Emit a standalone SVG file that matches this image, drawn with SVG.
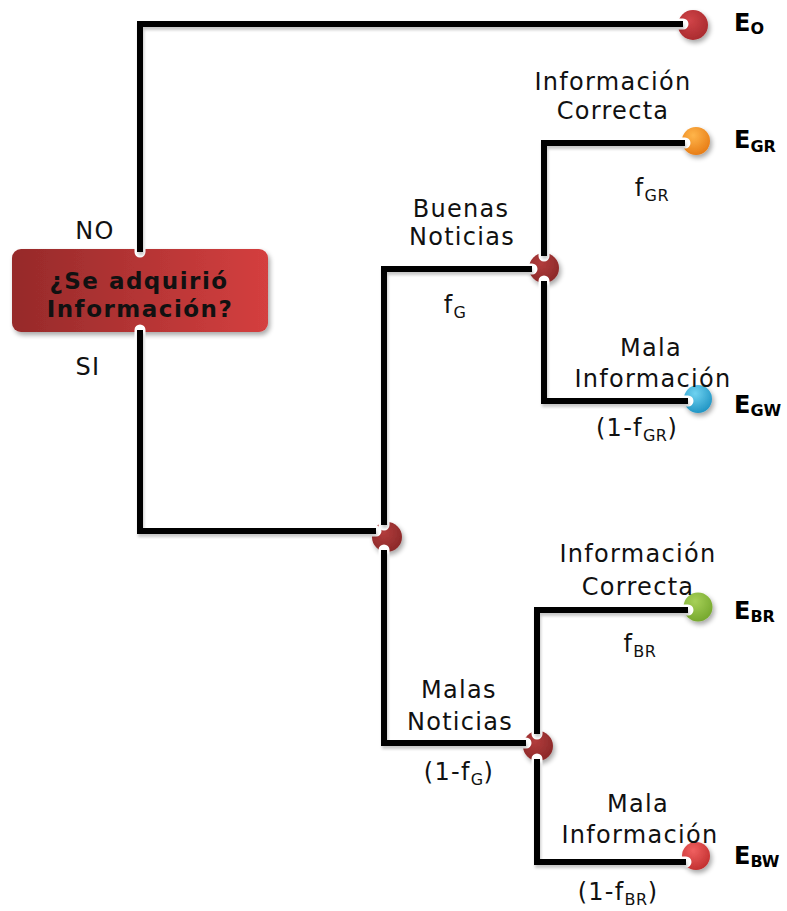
<svg xmlns="http://www.w3.org/2000/svg" width="787" height="911" viewBox="0 0 787 911">
  <defs>
    <style>
      .lbl { font-family: "DejaVu Sans", Verdana, sans-serif; font-size: 24px; letter-spacing: 1.3px; fill: #111; text-anchor: middle; }
      .sub { font-size: 16px; letter-spacing: 0.5px; }
      .end { font-family: "DejaVu Sans", Verdana, sans-serif; font-size: 24px; font-weight: bold; fill: #000; }
      .endsub { font-size: 16px; }
      .q { font-family: "DejaVu Sans", Verdana, sans-serif; font-size: 23px; font-weight: bold; letter-spacing: 1.5px; fill: #111; text-anchor: middle; }
      .halo { fill: none; stroke: #fff; stroke-width: 11; stroke-linecap: round; stroke-linejoin: miter; }
      .wire { fill: none; stroke: #000; stroke-width: 6; stroke-linecap: butt; stroke-linejoin: miter; }
    </style>
    <linearGradient id="boxFill" x1="0" y1="0" x2="1" y2="0">
      <stop offset="0" stop-color="#962a2a"/>
      <stop offset="1" stop-color="#d43f3f"/>
    </linearGradient>
    <radialGradient id="gNode" cx="0.4" cy="0.35" r="0.7">
      <stop offset="0" stop-color="#b23c3c"/>
      <stop offset="1" stop-color="#8a2828"/>
    </radialGradient>
    <radialGradient id="gRed" cx="0.4" cy="0.35" r="0.7">
      <stop offset="0" stop-color="#d04448"/>
      <stop offset="1" stop-color="#a82a2e"/>
    </radialGradient>
    <radialGradient id="gOrange" cx="0.4" cy="0.3" r="0.75">
      <stop offset="0" stop-color="#ffb54a"/>
      <stop offset="1" stop-color="#e67a14"/>
    </radialGradient>
    <radialGradient id="gCyan" cx="0.4" cy="0.3" r="0.75">
      <stop offset="0" stop-color="#6fd2f0"/>
      <stop offset="1" stop-color="#1d92c2"/>
    </radialGradient>
    <radialGradient id="gGreen" cx="0.4" cy="0.3" r="0.75">
      <stop offset="0" stop-color="#a6d058"/>
      <stop offset="1" stop-color="#74a62c"/>
    </radialGradient>
    <radialGradient id="gRed2" cx="0.4" cy="0.3" r="0.75">
      <stop offset="0" stop-color="#f06060"/>
      <stop offset="1" stop-color="#c02e2e"/>
    </radialGradient>
    <filter id="shadow" x="-30%" y="-30%" width="170%" height="170%">
      <feGaussianBlur in="SourceAlpha" stdDeviation="2.5"/>
      <feOffset dx="2" dy="3" result="b"/>
      <feComponentTransfer><feFuncA type="linear" slope="0.35"/></feComponentTransfer>
      <feMerge><feMergeNode/><feMergeNode in="SourceGraphic"/></feMerge>
    </filter>
    <filter id="lineShadow" x="-5%" y="-5%" width="110%" height="110%">
      <feGaussianBlur in="SourceAlpha" stdDeviation="1.5"/>
      <feOffset dx="1" dy="3" result="b"/>
      <feComponentTransfer><feFuncA type="linear" slope="0.22"/></feComponentTransfer>
      <feMerge><feMergeNode/><feMergeNode in="SourceGraphic"/></feMerge>
    </filter>
  </defs>

  <rect width="787" height="911" fill="#fff"/>

  <!-- decision box -->
  <g id="decision">
    <rect x="12" y="249" width="256" height="83" rx="9" fill="url(#boxFill)" filter="url(#shadow)"/>
    <text class="q" x="139" y="289">¿Se adquirió</text>
    <text class="q" x="140" y="317">Información?</text>
  </g>

  <!-- chance nodes -->
  <g id="node-root"><circle cx="387" cy="537" r="15" fill="url(#gNode)" filter="url(#shadow)"/></g>
  <g id="node-good"><circle cx="544" cy="268" r="15" fill="url(#gNode)" filter="url(#shadow)"/></g>
  <g id="node-bad"><circle cx="538" cy="746" r="15" fill="url(#gNode)" filter="url(#shadow)"/></g>

  <!-- outcome nodes -->
  <g id="end-o">
    <circle cx="693" cy="25" r="15" fill="url(#gRed)" filter="url(#shadow)"/>
    <text class="end" x="734" y="31">E<tspan class="endsub" dy="3">O</tspan></text>
  </g>
  <g id="end-gr">
    <circle cx="696" cy="141" r="14" fill="url(#gOrange)" filter="url(#shadow)"/>
    <text class="end" x="734" y="148">E<tspan class="endsub" dy="4">GR</tspan></text>
  </g>
  <g id="end-gw">
    <circle cx="698" cy="399" r="14" fill="url(#gCyan)" filter="url(#shadow)"/>
    <text class="end" x="734" y="413">E<tspan class="endsub" dy="3">GW</tspan></text>
  </g>
  <g id="end-br">
    <circle cx="698" cy="607" r="14.5" fill="url(#gGreen)" filter="url(#shadow)"/>
    <text class="end" x="734" y="619">E<tspan class="endsub" dy="3">BR</tspan></text>
  </g>
  <g id="end-bw">
    <circle cx="696" cy="856" r="14" fill="url(#gRed2)" filter="url(#shadow)"/>
    <text class="end" x="734" y="864">E<tspan class="endsub" dy="3">BW</tspan></text>
  </g>

  <!-- connectors: white halo cuts a notch into the nodes, black wire on top -->
  <g id="connectors">
    <g id="connector-halos">
      <path class="halo" d="M140,252 V24 H683"/>
      <path class="halo" d="M140,330 V531 H376"/>
      <path class="halo" d="M384,525 V269 H532"/>
      <path class="halo" d="M384,550 V743 H526"/>
      <path class="halo" d="M544,256 V143 H685"/>
      <path class="halo" d="M544,281 V401 H688"/>
      <path class="halo" d="M537,734 V610 H688"/>
      <path class="halo" d="M537,759 V862 H686"/>
    </g>
    <g id="connector-wires" filter="url(#lineShadow)">
      <path class="wire" d="M140,252 V24 H683"/>
      <path class="wire" d="M140,330 V531 H376"/>
      <path class="wire" d="M384,525 V269 H532"/>
      <path class="wire" d="M384,550 V743 H526"/>
      <path class="wire" d="M544,256 V143 H685"/>
      <path class="wire" d="M544,281 V401 H688"/>
      <path class="wire" d="M537,734 V610 H688"/>
      <path class="wire" d="M537,759 V862 H686"/>
    </g>
  </g>

  <!-- branch labels -->
  <g id="labels">
    <text class="lbl" x="95" y="239">NO</text>
    <text class="lbl" x="88" y="375">SI</text>

    <text class="lbl" x="461" y="217">Buenas</text>
    <text class="lbl" x="462" y="245">Noticias</text>
    <text class="lbl" x="455" y="313">f<tspan class="sub" dy="5">G</tspan></text>

    <text class="lbl" x="613" y="90">Información</text>
    <text class="lbl" x="613" y="119">Correcta</text>
    <text class="lbl" x="652" y="196">f<tspan class="sub" dy="5">GR</tspan></text>

    <text class="lbl" x="651" y="356">Mala</text>
    <text class="lbl" x="653" y="387">Información</text>
    <text class="lbl" x="637" y="436">(1-f<tspan class="sub" dy="5">GR</tspan><tspan dy="-5">)</tspan></text>

    <text class="lbl" x="638" y="562">Información</text>
    <text class="lbl" x="638" y="595">Correcta</text>
    <text class="lbl" x="640" y="652">f<tspan class="sub" dy="5">BR</tspan></text>

    <text class="lbl" x="459" y="698">Malas</text>
    <text class="lbl" x="460" y="730">Noticias</text>
    <text class="lbl" x="459" y="780">(1-f<tspan class="sub" dy="5">G</tspan><tspan dy="-5">)</tspan></text>

    <text class="lbl" x="638" y="812">Mala</text>
    <text class="lbl" x="640" y="843">Información</text>
    <text class="lbl" x="618" y="900">(1-f<tspan class="sub" dy="5">BR</tspan><tspan dy="-5">)</tspan></text>
  </g>
</svg>
